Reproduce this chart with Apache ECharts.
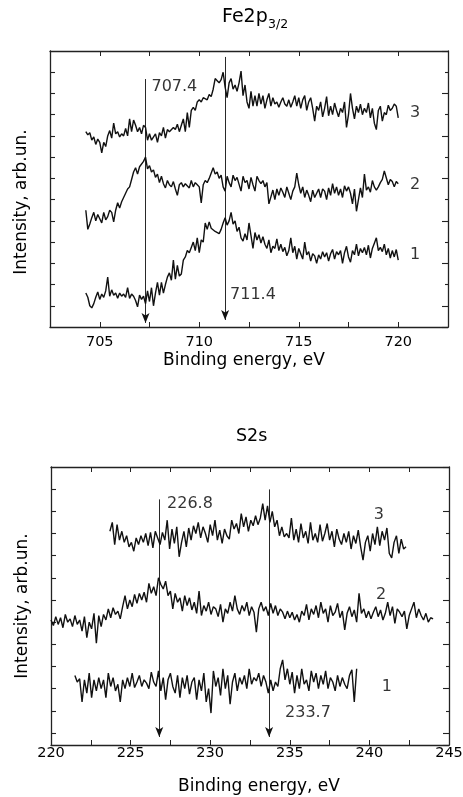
<!DOCTYPE html>
<html><head><meta charset="utf-8">
<script src="https://cdn.jsdelivr.net/npm/echarts@6/dist/echarts.min.js"></script>
<style>html,body{margin:0;padding:0;background:#fff}#c{width:463px;height:797px}</style>
</head><body><div id="c"></div>
<script>
// ---------- Fe2p3/2 panel (top) ----------
const feStart = 704.3, feStep = 0.1;
const fe3 = [9.2,9.05,9.15,8.8,8.95,8.6,8.85,8.7,
 8.2,8.7,8.5,9.0,9.25,8.9,9.6,9.1,9.2,8.95,
 9.1,9.0,9.35,9.0,9.8,9.2,9.75,9.5,9.2,9.4,
 9.1,9.5,9.4,8.8,9.1,8.8,8.85,9.1,8.7,9.15,
 9.0,9.4,8.9,9.3,9.2,9.25,9.4,9.3,9.55,9.2,
 9.5,9.8,9.2,10.1,9.4,10.2,10.35,10.2,10.6,10.7,
 10.6,10.8,10.75,10.7,10.95,10.85,11.2,11.7,11.6,11.5,
 11.65,12.0,11.3,10.8,11.5,11.7,11.2,11.4,11.1,11.5,
 12.05,10.9,11.4,10.6,10.3,11.1,10.4,10.9,10.4,11.0,
 10.5,10.9,10.3,10.7,11.0,10.4,10.8,10.5,10.6,10.35,
 10.6,10.8,10.5,10.4,10.7,10.35,10.6,10.9,10.4,10.8,
 10.3,10.7,10.9,10.2,10.6,10.8,10.3,9.7,10.4,10.2,
 10.6,9.9,10.3,10.85,9.95,10.4,10.0,10.55,10.2,9.9,
 10.3,10.1,10.6,9.4,10.0,11.0,10.3,9.8,10.4,10.1,
 10.5,10.0,10.3,10.1,10.55,9.85,10.3,9.6,9.3,10.2,
 10.4,9.7,10.1,10.0,10.45,10.2,10.3,10.5,10.4,9.85];
const fe2 = [5.5,4.6,4.85,5.15,5.4,5.0,5.3,5.1,
 4.9,5.4,5.05,5.2,5.5,5.4,4.95,5.5,5.85,5.6,
 5.9,6.1,6.3,6.5,6.6,6.95,7.3,7.5,7.2,7.55,
 7.5,7.8,8.0,7.45,7.6,7.3,7.4,7.05,7.2,6.8,
 7.1,6.75,6.55,6.9,6.7,6.6,6.85,6.5,6.2,6.7,
 6.8,6.6,6.75,6.7,6.55,6.9,6.6,6.8,6.7,6.6,
 5.85,6.7,6.9,6.8,7.0,6.95,7.5,7.2,7.3,7.0,
 7.15,6.6,6.4,7.1,6.8,6.6,7.15,6.9,7.05,7.0,
 6.4,7.1,6.8,6.9,6.5,7.05,6.7,6.4,7.1,6.9,
 6.75,6.9,6.6,6.8,5.8,5.75,6.45,6.0,6.5,6.2,
 6.55,6.35,6.1,6.6,6.3,6.0,6.4,6.6,7.25,6.7,
 6.3,6.6,6.1,6.45,6.2,5.9,6.45,6.1,6.3,6.5,
 6.1,6.5,6.4,6.0,6.55,6.2,6.75,6.3,6.6,6.2,
 6.5,6.1,6.65,6.4,6.6,6.3,5.8,6.5,5.45,6.0,
 6.55,6.1,7.2,6.45,6.6,6.35,6.9,6.6,6.45,6.6,
 6.8,6.95,7.35,7.3,6.7,6.95,6.85,6.6,6.85,6.75];
const fe1 = [1.6,1.4,1.0,0.9,1.1,1.4,1.65,1.3,
 1.55,1.4,1.7,2.35,1.45,1.75,1.5,1.6,1.35,1.6,
 1.45,1.55,1.4,1.85,1.35,1.55,1.45,1.25,0.95,1.5,
 1.3,1.45,1.1,1.7,1.2,1.85,1.0,1.6,2.1,1.5,
 2.1,1.6,2.0,2.35,2.55,2.2,3.15,2.25,2.9,2.4,
 2.5,3.15,3.3,3.6,3.5,3.75,4.0,3.6,4.2,3.5,
 4.1,4.0,4.9,4.6,4.95,4.65,4.7,4.5,4.55,4.4,
 4.6,4.9,5.15,4.8,5.0,5.4,4.85,5.0,4.5,4.7,
 4.2,4.05,4.4,4.1,4.9,4.3,3.7,4.45,4.1,4.35,
 3.95,4.25,3.9,3.7,4.1,3.5,3.8,3.7,4.15,3.6,
 3.9,3.55,3.75,3.35,3.6,4.2,3.5,3.8,3.2,3.7,
 3.45,3.2,4.0,3.4,3.55,3.1,3.45,3.35,3.0,3.4,
 3.2,3.55,3.3,3.5,3.1,3.45,3.65,3.2,3.55,3.4,
 3.6,3.0,3.5,3.8,3.3,3.05,3.6,3.4,3.9,3.35,
 3.7,3.5,3.75,3.4,3.85,3.25,3.7,3.95,4.2,3.6,
 3.75,3.55,3.9,3.4,3.7,3.25,3.6,3.3,3.65,3.15];
const feMarkX = [707.3, 711.3];
const feMarkTop = [11.68, 12.72];
const feMarkBottom = [0.19, 0.33];
const feNotes = [{x:708.75, y:11.3, t:'707.4'}, {x:712.7, y:1.5, t:'711.4'},
                 {x:720.85, y:10.08, t:'3'}, {x:720.85, y:6.69, t:'2'}, {x:720.85, y:3.39, t:'1'}];
const feLeftTicks = [1,2,3,4,5,6,7,8,9,10,11,12];

// ---------- S2s panel (bottom) ----------
const sStep = 0.15;
const s3Start = 223.7, s2Start = 220.0, s1Start = 221.5;
const s3 = [9.1,9.5,8.5,9.4,8.7,9.1,8.6,8.9,8.4,8.6,
 8.2,8.8,8.5,8.9,8.6,9.0,8.45,9.05,8.35,9.1,
 8.8,8.5,9.05,8.7,9.6,8.3,9.2,8.55,9.3,7.95,
 8.6,9.1,8.4,9.25,8.7,9.35,9.0,9.5,8.8,9.3,
 9.0,8.6,9.4,8.9,9.6,8.7,9.15,8.55,9.2,8.9,
 8.75,9.6,9.2,9.45,9.0,9.9,9.3,9.75,9.1,9.6,
 9.35,9.8,9.4,9.7,10.35,9.6,10.25,9.5,10.0,9.3,
 9.6,8.9,9.3,8.85,9.0,8.8,9.7,8.7,9.2,8.6,
 9.45,8.8,9.1,8.55,9.5,8.7,9.0,8.6,9.4,8.65,
 9.0,9.45,8.7,9.1,8.4,9.2,8.75,8.5,9.0,8.6,
 9.1,8.3,8.9,8.55,9.15,8.4,7.8,8.6,8.9,8.2,
 9.0,8.5,9.3,8.45,9.1,8.7,9.25,8.1,7.9,8.6,
 8.9,8.1,8.75,8.3,8.4];
const s2 = [5.1,4.85,5.25,4.9,5.2,4.75,5.35,5.0,5.15,4.8,
 5.3,4.9,5.1,4.6,5.25,4.3,5.0,4.7,5.4,4.05,
 5.3,4.8,5.35,5.1,5.6,5.2,5.65,5.35,5.5,5.15,
 5.7,6.2,5.6,6.0,5.7,6.25,5.85,6.3,6.0,6.35,
 5.9,6.75,6.3,6.6,6.2,7.0,6.7,6.5,6.85,6.2,
 6.4,5.6,6.3,5.9,6.1,5.5,6.2,5.75,6.1,5.55,
 5.9,5.4,6.4,5.3,5.75,5.5,5.9,5.35,5.7,5.6,
 5.25,5.8,5.0,5.6,5.4,5.9,5.5,6.2,5.6,5.35,
 5.75,5.5,5.9,5.3,5.7,5.45,4.55,5.6,5.9,5.5,
 5.7,5.3,5.85,5.4,5.75,5.3,5.6,5.45,5.15,5.5,
 5.2,5.45,5.1,5.35,5.0,5.5,5.3,5.8,5.1,5.6,
 5.35,5.75,5.2,5.9,5.4,5.6,5.0,5.75,5.3,5.45,
 5.85,5.2,5.5,4.65,5.4,5.7,5.25,5.55,5.0,6.3,
 5.4,5.6,5.2,5.5,5.15,5.45,5.7,5.25,5.55,5.1,
 5.4,5.9,5.3,5.7,4.95,5.6,5.45,5.25,5.5,4.7,
 5.3,5.6,5.9,5.2,5.6,5.3,5.1,5.4,5.0,5.2,
 5.15];
const s1 = [2.6,2.3,2.45,1.4,2.4,1.8,2.7,1.6,2.4,1.9,
 2.5,2.0,2.4,1.6,2.7,2.1,2.5,1.9,2.2,1.4,
 2.4,2.0,2.5,2.1,2.7,2.05,2.3,2.6,2.1,2.4,
 2.25,2.0,2.75,2.3,2.1,2.8,1.9,2.5,1.5,2.4,
 2.7,2.1,1.8,2.6,1.6,2.5,2.0,2.6,1.75,2.3,
 2.5,1.5,2.4,1.9,2.7,1.4,2.0,0.9,2.8,2.1,
 2.5,1.7,2.9,2.0,2.6,1.3,2.3,2.7,1.9,2.5,
 2.2,2.6,2.0,2.9,2.2,2.5,2.35,2.7,2.1,2.6,
 2.3,1.8,2.4,1.9,2.3,2.1,2.9,3.3,2.4,2.9,
 2.2,2.75,1.8,2.6,2.0,2.9,2.2,2.4,1.9,2.8,
 2.3,2.7,2.0,2.6,2.2,2.8,2.0,2.5,2.3,1.9,
 2.6,2.1,2.5,2.2,2.0,2.6,2.85,1.4,2.9];
const sMarkX = [226.8, 233.7];
const sMarkTop = [10.54, 10.99];
const sMarkBottom = [-0.18, -0.18];
const sNotes = [{x:228.73, y:10.36, t:'226.8'}, {x:236.14, y:0.9, t:'233.7'},
                {x:240.6, y:9.82, t:'3'}, {x:240.73, y:6.22, t:'2'}, {x:241.1, y:2.07, t:'1'}];
const sLeftTicks = [0,1,2,3,4,5,6,7,8,9,10,11];

const FONT = '"DejaVu Sans", sans-serif';
const INK = '#111';
const AX = '#222';

function pairs(start, step, arr) {
  return arr.map((v, i) => [Math.round((start + i * step) * 1000) / 1000, v]);
}
function isMult5(v) { return Math.abs(v / 5 - Math.round(v / 5)) < 1e-6; }

function lineSeries(data, xi, yi, marks) {
  const s = {
    type: 'line', data: data, xAxisIndex: xi, yAxisIndex: yi,
    showSymbol: false, symbol: 'none', animation: false, silent: true,
    lineStyle: { color: INK, width: 1.4 }
  };
  if (marks) {
    s.markLine = {
      silent: true, animation: false, symbol: ['none', 'arrow'], symbolSize: [6, 10],
      label: { show: false },
      lineStyle: { color: INK, width: 0.9, type: 'solid' },
      data: marks.x.map((x, i) => [{ coord: [x, marks.top[i]] }, { coord: [x, marks.bottom[i]] }])
    };
  }
  return s;
}
function noteSeries(notes, xi, yi) {
  return {
    type: 'scatter', xAxisIndex: xi, yAxisIndex: yi, symbolSize: 1, silent: true, animation: false,
    itemStyle: { color: 'rgba(0,0,0,0)' },
    data: notes.map(n => ({ value: [n.x, n.y], label: { formatter: n.t } })),
    label: { show: true, position: 'inside', color: '#000', fontSize: 16, fontFamily: FONT }
  };
}

function xAx(grid, min, max, pos, showLabels, margin, name, gap, pad) {
  const o = {
    type: 'value', gridIndex: grid, min: min, max: max, interval: 2.5, position: pos,
    axisLine: { show: true, onZero: false, lineStyle: { color: AX, width: 1.3 } },
    splitLine: { show: false },
    axisTick: { show: true, inside: true, length: 5, lineStyle: { color: AX, width: 1 } },
    axisLabel: showLabels ? {
      show: true, margin: margin, color: '#000', fontSize: 14.5, fontFamily: FONT,
      showMinLabel: true, showMaxLabel: true,
      formatter: v => (isMult5(v) ? String(Math.round(v)) : '')
    } : { show: false }
  };
  if (name) {
    o.name = name; o.nameLocation = 'middle'; o.nameGap = gap;
    o.nameTextStyle = { color: '#000', fontSize: 17, fontFamily: FONT, padding: pad || 0 };
  }
  return o;
}
function yAxLeft(grid, min, max, ticks, name, gap, pad) {
  return {
    type: 'value', gridIndex: grid, min: min, max: max, position: 'left',
    axisLine: { show: true, onZero: false, lineStyle: { color: AX, width: 1.3 } },
    splitLine: { show: false },
    axisTick: { show: true, inside: true, length: 5, customValues: ticks, lineStyle: { color: AX, width: 1.1 } },
    axisLabel: { show: false },
    name: name, nameLocation: 'middle', nameGap: gap,
    nameTextStyle: { color: '#000', fontSize: 17, fontFamily: FONT, padding: pad || 0 }
  };
}
// right-hand axis: counted from the top edge (inverse), long ticks every 2, short ticks between
function yAxRight(grid, span) {
  return {
    type: 'value', gridIndex: grid, min: 0, max: span, inverse: true, interval: 2, position: 'right',
    axisLine: { show: true, onZero: false, lineStyle: { color: AX, width: 1.3 } },
    splitLine: { show: false },
    axisTick: { show: true, inside: true, length: 6, lineStyle: { color: AX, width: 1.1 } },
    minorTick: { show: true, splitNumber: 2, length: 3, lineStyle: { color: AX, width: 1.1 } },
    minorSplitLine: { show: false },
    axisLabel: { show: false }
  };
}

const feXMin = 702.5, feXMax = 722.5;
const sXMin = 220, sXMax = 245;

const option = {
  backgroundColor: '#fff',
  animation: false,
  grid: [
    { left: 50, top: 51, width: 398, height: 276, outerBoundsMode: 'none', containLabel: false },
    { left: 51, top: 467, width: 398, height: 278, outerBoundsMode: 'none', containLabel: false }
  ],
  xAxis: [
    xAx(0, feXMin, feXMax, 'bottom', true, 8, 'Binding energy, eV', 25, [0, 10, 0, 0]),
    xAx(0, feXMin, feXMax, 'top', false),
    xAx(1, sXMin, sXMax, 'bottom', true, 1, 'Binding energy, eV', 33, [0, 0, 0, 18]),
    xAx(1, sXMin, sXMax, 'top', false)
  ],
  yAxis: [
    yAxLeft(0, 0, 13, feLeftTicks, 'Intensity, arb.un.', 20, [0, 26, 0, 0]),
    yAxRight(0, 13),
    yAxLeft(1, -0.54, 12, sLeftTicks, 'Intensity, arb.un.', 20),
    yAxRight(1, 12.54)
  ],
  graphic: [
    { type: 'text', left: 222, top: 8, style: { text: 'Fe2p', fill: '#000', fontSize: 19, fontFamily: FONT } },
    { type: 'text', left: 268, top: 18, style: { text: '3/2', fill: '#000', fontSize: 12.5, fontFamily: FONT } },
    { type: 'text', left: 236, top: 427, style: { text: 'S2s', fill: '#000', fontSize: 17.5, fontFamily: FONT } }
  ],
  series: [
    lineSeries(pairs(feStart, feStep, fe3), 0, 0, { x: feMarkX, top: feMarkTop, bottom: feMarkBottom }),
    lineSeries(pairs(feStart, feStep, fe2), 0, 0),
    lineSeries(pairs(feStart, feStep, fe1), 0, 0),
    noteSeries(feNotes, 0, 0),
    lineSeries(pairs(s3Start, sStep, s3), 2, 2, { x: sMarkX, top: sMarkTop, bottom: sMarkBottom }),
    lineSeries(pairs(s2Start, sStep, s2), 2, 2),
    lineSeries(pairs(s1Start, sStep, s1), 2, 2),
    noteSeries(sNotes, 2, 2)
  ]
};
const chart = echarts.init(document.getElementById('c'), null, { renderer: 'canvas' });
chart.setOption(option);
</script>
</body></html>
